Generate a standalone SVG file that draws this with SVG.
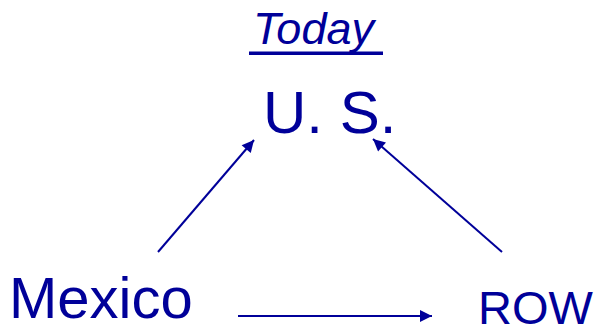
<svg xmlns="http://www.w3.org/2000/svg" width="596" height="326" viewBox="0 0 596 326">
<style>
.t{font-family:"Liberation Sans",Arial,sans-serif;fill:#000099}
.c{stroke:#000099;stroke-width:2;fill:none}
</style>
<defs>
<marker id="ah" viewBox="0 0 10 10" refX="10" refY="5" markerWidth="7" markerHeight="6" markerUnits="strokeWidth" orient="auto">
<path d="M0,0 L10,5 L0,10 z" fill="#000099"/>
</marker>
</defs>
<rect width="596" height="326" fill="#ffffff"/>
<g id="title">
<text class="t" x="253" y="44" font-size="45" font-style="italic">Today</text>
<rect x="249" y="51.5" width="134" height="3.5" fill="#000099"/>
</g>
<g id="us"><text class="t" x="263" y="133" font-size="60">U. S.</text></g>
<g id="mexico"><text class="t" x="9" y="318" font-size="58">Mexico</text></g>
<g id="row"><text class="t" x="478" y="324" font-size="47">ROW</text></g>
<g id="connectors">
<line class="c" x1="158" y1="252" x2="254" y2="140" marker-end="url(#ah)"/>
<line class="c" x1="502" y1="252" x2="373" y2="139" marker-end="url(#ah)"/>
<line class="c" x1="238" y1="316" x2="432" y2="316" marker-end="url(#ah)"/>
</g>
</svg>
